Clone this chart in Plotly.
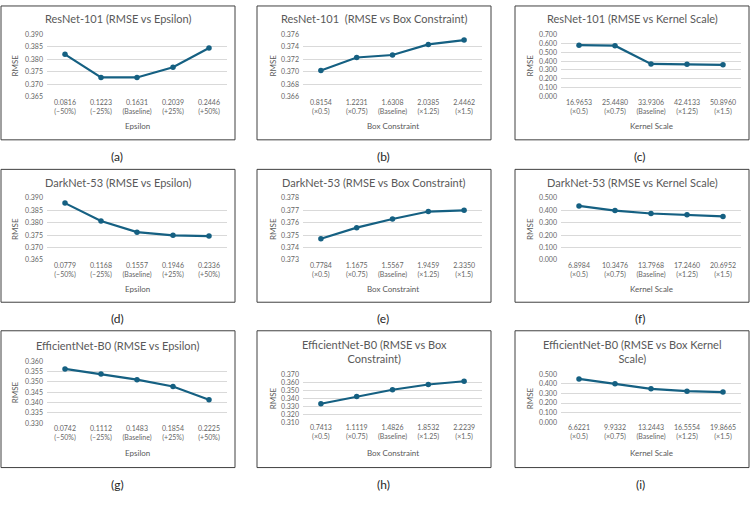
import plotly.graph_objects as go

# ---------------- data ----------------
pct_labels = ["(–50%)", "(–25%)", "(Baseline)", "(+25%)", "(+50%)"]
mult_labels = ["(×0.5)", "(×0.75)", "(Baseline)", "(×1.25)", "(×1.5)"]

resnet_eps_params = ["0.0816", "0.1223", "0.1631", "0.2039", "0.2446"]
resnet_eps_rmse = [0.3820, 0.3727, 0.3727, 0.3768, 0.3846]
resnet_box_params = ["0.8154", "1.2231", "1.6308", "2.0385", "2.4462"]
resnet_box_rmse = [0.3702, 0.3723, 0.3727, 0.3744, 0.3751]
resnet_ks_params = ["16.9653", "25.4480", "33.9306", "42.4133", "50.8960"]
resnet_ks_rmse = [0.580, 0.574, 0.368, 0.365, 0.358]

darknet_eps_params = ["0.0779", "0.1168", "0.1557", "0.1946", "0.2336"]
darknet_eps_rmse = [0.3879, 0.3807, 0.3762, 0.3749, 0.3746]
darknet_box_params = ["0.7784", "1.1675", "1.5567", "1.9459", "2.3350"]
darknet_box_rmse = [0.3747, 0.3756, 0.3763, 0.3769, 0.3770]
darknet_ks_params = ["6.8984", "10.3476", "13.7968", "17.2460", "20.6952"]
darknet_ks_rmse = [0.435, 0.398, 0.374, 0.364, 0.351]

effnet_eps_params = ["0.0742", "0.1112", "0.1483", "0.1854", "0.2225"]
effnet_eps_rmse = [0.3563, 0.3538, 0.3511, 0.3478, 0.3414]
effnet_box_params = ["0.7413", "1.1119", "1.4826", "1.8532", "2.2239"]
effnet_box_rmse = [0.3331, 0.3420, 0.3505, 0.3570, 0.3611]
effnet_ks_params = ["6.6221", "9.9332", "13.2443", "16.5554", "19.8665"]
effnet_ks_rmse = [0.450, 0.400, 0.347, 0.323, 0.313]

titles = [
    "ResNet-101 (RMSE vs Epsilon)", "ResNet-101  (RMSE vs Box Constraint)", "ResNet-101 (RMSE vs Kernel Scale)",
    "DarkNet-53 (RMSE vs Epsilon)", "DarkNet-53 (RMSE vs Box Constraint)", "DarkNet-53 (RMSE vs Kernel Scale)",
    "EfficientNet-B0 (RMSE vs Epsilon)", "EfficientNet-B0 (RMSE vs Box<br>Constraint)",
    "EfficientNet-B0 (RMSE vs Box Kernel<br>Scale)",
]
x_titles = ["Epsilon", "Box Constraint", "Kernel Scale"] * 3
panel_labels = ["(a)", "(b)", "(c)", "(d)", "(e)", "(f)", "(g)", "(h)", "(i)"]
y_ranges = [
    (0.365, 0.390, 0.005), (0.366, 0.376, 0.002), (0.0, 0.7, 0.1),
    (0.365, 0.390, 0.005), (0.373, 0.378, 0.001), (0.0, 0.5, 0.1),
    (0.330, 0.360, 0.005), (0.310, 0.370, 0.010), (0.0, 0.5, 0.1),
]

series = [
    (resnet_eps_params, pct_labels, resnet_eps_rmse),
    (resnet_box_params, mult_labels, resnet_box_rmse),
    (resnet_ks_params, mult_labels, resnet_ks_rmse),
    (darknet_eps_params, pct_labels, darknet_eps_rmse),
    (darknet_box_params, mult_labels, darknet_box_rmse),
    (darknet_ks_params, mult_labels, darknet_ks_rmse),
    (effnet_eps_params, pct_labels, effnet_eps_rmse),
    (effnet_box_params, mult_labels, effnet_box_rmse),
    (effnet_ks_params, mult_labels, effnet_ks_rmse),
]

# ---------------- layout geometry (pixels) ----------------
W, H = 750, 506
box_x = [(1, 235), (257, 491), (515, 749)]
box_y = [(1, 137), (167, 302), (331, 470)]
plot_x = [(47, 227), (303, 482), (561, 741)]
plot_y = [[(30, 93)] * 3, [(196, 259)] * 3, [(362, 425), (375, 424), (375, 424)]]
title_y = [[14] * 3, [180] * 3, [346, 352, 352]]
xtitle_y = [123, 289, 455]
label_x = [117, 383, 640]
label_y = [154, 319, 487]
ytitle_x = [15, 273, 530]

LINE = "#156082"
GRAY = "#595959"
FONT = "Lato"


def px(x):
    return x / W


def py(y):
    return 1 - y / H


fig = go.Figure()
annotations = []
shapes = []

for i, (params, sub, rmse) in enumerate(series):
    r, c = divmod(i, 3)
    n = i + 1
    xa = "xaxis" if n == 1 else f"xaxis{n}"
    ya = "yaxis" if n == 1 else f"yaxis{n}"
    xr = "x" if n == 1 else f"x{n}"
    yr = "y" if n == 1 else f"y{n}"
    cats = [f"{p}<br>{s}" for p, s in zip(params, sub)]
    fig.add_trace(go.Scatter(
        x=cats, y=rmse, mode="lines+markers", xaxis=xr, yaxis=yr,
        line=dict(color=LINE, width=2.2), marker=dict(color=LINE, size=5.5),
        showlegend=False, hoverinfo="skip",
    ))
    x0, x1 = plot_x[c]
    y0, y1 = plot_y[r][c]
    lo, hi, dt = y_ranges[i]
    fig.layout[xa] = dict(
        domain=[px(x0), px(x1)], anchor=yr, type="category", range=[-0.5, 4.5],
        showgrid=False, zeroline=False, showline=False, ticks="",
        tickfont=dict(family=FONT, size=7, color="#666666"), fixedrange=True,
    )
    fig.layout[ya] = dict(
        domain=[py(y1), py(y0)], anchor=xr, range=[lo, hi], dtick=dt, tick0=lo,
        tickformat=".3f", showgrid=True, gridcolor="#d9d9d9", gridwidth=1,
        zeroline=False, showline=False, ticks="", ticklabelstandoff=3,
        tickfont=dict(family=FONT, size=7, color="#666666"), fixedrange=True,
    )
    bx0, bx1 = box_x[c]
    by0, by1 = box_y[r]
    shapes.append(dict(type="rect", xref="paper", yref="paper",
                       x0=px(bx0), x1=px(bx1), y0=py(by1), y1=py(by0),
                       line=dict(color="#404040", width=1), layer="above"))
    annotations.append(dict(text=titles[i], x=px((bx0 + bx1) / 2), y=py(title_y[r][c]),
                            xref="paper", yref="paper", showarrow=False,
                            font=dict(family=FONT, size=11, color=GRAY),
                            xanchor="center", yanchor="middle"))
    annotations.append(dict(text=x_titles[i], x=px((x0 + x1) / 2), y=py(xtitle_y[r]),
                            xref="paper", yref="paper", showarrow=False,
                            font=dict(family=FONT, size=8, color=GRAY),
                            xanchor="center", yanchor="middle"))
    annotations.append(dict(text="RMSE", x=px(ytitle_x[c]), y=py((y0 + y1) / 2),
                            xref="paper", yref="paper", showarrow=False, textangle=-90,
                            font=dict(family=FONT, size=8, color=GRAY),
                            xanchor="center", yanchor="middle"))
    annotations.append(dict(text=panel_labels[i], x=px(label_x[c]), y=py(label_y[r]),
                            xref="paper", yref="paper", showarrow=False,
                            font=dict(family=FONT, size=12, color="#262626"),
                            xanchor="center", yanchor="middle"))

fig.update_layout(
    width=W, height=H, margin=dict(l=0, r=0, t=0, b=0),
    paper_bgcolor="white", plot_bgcolor="white",
    annotations=annotations, shapes=shapes,
)

fig.write_html("out.html", config={"displayModeBar": False})
